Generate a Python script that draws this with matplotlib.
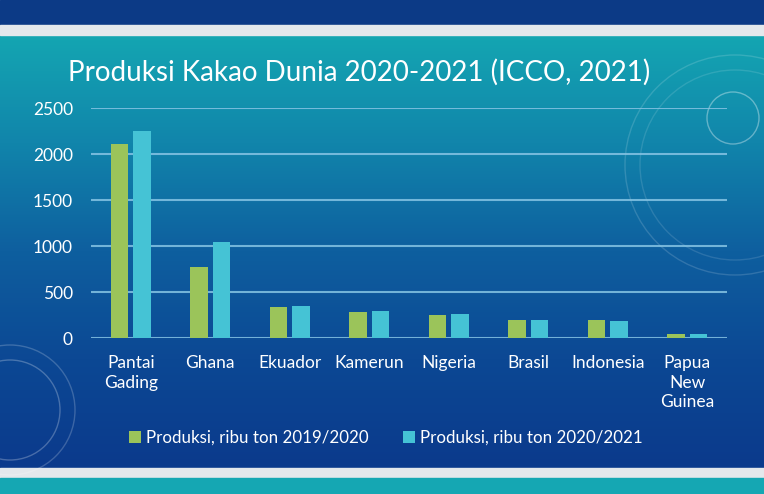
import numpy as np
import matplotlib
matplotlib.use("Agg")
import matplotlib.pyplot as plt
from matplotlib.colors import LinearSegmentedColormap
from matplotlib.patches import Circle

# data (ribu ton)
negara = ["Pantai\nGading", "Ghana", "Ekuador", "Kamerun", "Nigeria",
          "Brasil", "Indonesia", "Papua\nNew\nGuinea"]
prod_2019_2020 = [2105, 770, 342, 280, 250, 200, 200, 40]
prod_2020_2021 = [2250, 1045, 350, 290, 265, 200, 180, 45]
label_a = "Produksi, ribu ton 2019/2020"
label_b = "Produksi, ribu ton 2020/2021"
yticks = [0, 500, 1000, 1500, 2000, 2500]

W, H = 764, 494
fig = plt.figure(figsize=(W / 100, H / 100), dpi=100)

# background: screenshot frame + slide gradient
bg = fig.add_axes([0, 0, 1, 1])
bg.set_xlim(0, W)
bg.set_ylim(H, 0)
bg.axis("off")
slide = LinearSegmentedColormap.from_list(
    "slide", ["#14a6b2", "#1185ab", "#0e5f9f", "#0c4894", "#0b3a8c"])
grad = np.linspace(0, 1, 256).reshape(-1, 1)
bg.imshow(grad, cmap=slide, extent=[0, W, 468, 35], aspect="auto")
bg.add_patch(plt.Rectangle((0, 0), W, 25, color="#0c3a86"))
bg.add_patch(plt.Rectangle((0, 25), W, 10, color="#e4e8ec"))
bg.add_patch(plt.Rectangle((0, 468), W, 10, color="#e4e8ec"))
bg.add_patch(plt.Rectangle((0, 478), W, 16, color="#15a7b3"))
# faint decorative rings
for (cx, cy, r, a) in [(735, 165, 110, 0.15), (735, 165, 95, 0.12),
                       (733, 118, 26, 0.35), (10, 410, 65, 0.2),
                       (10, 410, 50, 0.25)]:
    bg.add_patch(Circle((cx, cy), r, fill=False, ec="white", lw=1, alpha=a))

bg.text(68, 72, "Produksi Kakao Dunia 2020-2021 (ICCO, 2021)",
        color="white", fontsize=20, family="Lato", va="center", ha="left")

ax = fig.add_axes([91 / W, 1 - 338 / H, (727 - 91) / W, (338 - 108) / H])
ax.patch.set_alpha(0)
x = np.arange(len(negara))
w = 0.22
ax.bar(x - 0.142, prod_2019_2020, w, color="#9bc45a", label=label_a, zorder=3)
ax.bar(x + 0.142, prod_2020_2021, w, color="#45c3d5", label=label_b, zorder=3)

ax.set_xlim(-0.5, len(negara) - 0.5)
ax.set_ylim(0, 2500)
ax.set_yticks(yticks)
ax.set_xticks(x)
ax.set_xticklabels(negara, linespacing=1.3)
ax.grid(axis="y", color="#86c4e4", lw=1.5, alpha=0.85, zorder=1)
for s in ax.spines.values():
    s.set_visible(False)
ax.tick_params(length=0, colors="white", labelsize=12.5)
ax.tick_params(axis="y", pad=13)
ax.tick_params(axis="x", pad=12)
for t in ax.get_xticklabels() + ax.get_yticklabels():
    t.set_family("Lato")

fig.legend(loc="center", bbox_to_anchor=(0.505, 1 - 438 / H), ncol=2,
           frameon=False, prop={"family": "Lato", "size": 12.2},
           labelcolor="white", handlelength=0.7, handleheight=0.7,
           handletextpad=0.3, columnspacing=2.0)

fig.savefig("out.png", dpi=100)
